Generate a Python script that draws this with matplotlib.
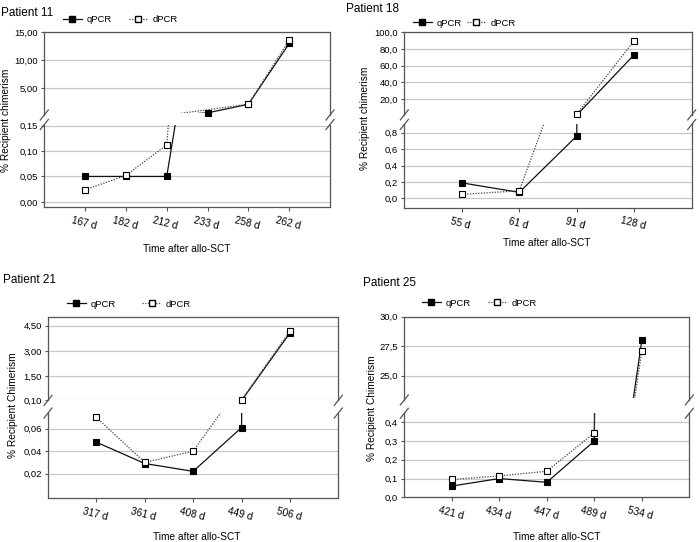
import numpy as np
import matplotlib
matplotlib.use('Agg')
import matplotlib.pyplot as plt
from matplotlib.lines import Line2D
from matplotlib.patches import Rectangle

plt.rcParams['font.family'] = ['Liberation Sans', 'DejaVu Sans']

W, H = 700, 542
nan = np.nan

# Patient 11
days_11 = ['167 d', '182 d', '212 d', '233 d', '258 d', '262 d']
qpcr_11 = [0.05, 0.05, 0.05, 0.54, 2.07, 13.0]
dpcr_11 = [0.024, 0.052, 0.112, nan, 2.1, 13.6]
up_ticks_11 = [5, 10, 15]
up_labels_11 = ['5,00', '10,00', '15,00']
lo_ticks_11 = [0, 0.05, 0.10, 0.15]
lo_labels_11 = ['0,00', '0,05', '0,10', '0,15']

# Patient 18
days_18 = ['55 d', '61 d', '91 d', '128 d']
qpcr_18 = [0.19, 0.074, 0.76, 73.2]
dpcr_18 = [0.05, 0.093, 2.0, 89.9]
up_ticks_18 = [20, 40, 60, 80, 100]
up_labels_18 = ['20,0', '40,0', '60,0', '80,0', '100,0']
lo_ticks_18 = [0, 0.2, 0.4, 0.6, 0.8]
lo_labels_18 = ['0,0', '0,2', '0,4', '0,6', '0,8']

# Patient 21
days_21 = ['317 d', '361 d', '408 d', '449 d', '506 d']
qpcr_21 = [0.048, 0.029, 0.022, 0.061, 4.08]
dpcr_21 = [0.070, 0.030, 0.040, 0.10, 4.18]
up_ticks_21 = [0.10, 1.50, 3.00, 4.50]
up_labels_21 = ['0,10', '1,50', '3,00', '4,50']
lo_ticks_21 = [0.02, 0.04, 0.06]
lo_labels_21 = ['0,02', '0,04', '0,06']

# Patient 25
days_25 = ['421 d', '434 d', '447 d', '489 d', '534 d']
qpcr_25 = [0.06, 0.10, 0.08, 0.30, 28.0]
dpcr_25 = [0.095, 0.114, 0.139, 0.344, 27.1]
up_ticks_25 = [25, 27.5, 30]
up_labels_25 = ['25,0', '27,5', '30,0']
lo_ticks_25 = [0, 0.1, 0.2, 0.3, 0.4]
lo_labels_25 = ['0,0', '0,1', '0,2', '0,3', '0,4']

SPINE = '#555555'
GRID = '#c8c8c8'

fig = plt.figure(figsize=(7, 5.42), dpi=100)


def box(x0, x1, y0, y1):
    # pixel box (origin top-left) -> figure fraction
    return [x0 / W, 1 - y1 / H, (x1 - x0) / W, (y1 - y0) / H]


def slash(x, y):
    fig.add_artist(Line2D([(x - 4) / W, (x + 4) / W], [1 - (y + 5) / H, 1 - (y - 5) / H],
                          transform=fig.transFigure, color=SPINE, lw=0.9))


def draw_series(ax, vals, lim, style, inset=0.0):
    v = np.array(vals, dtype=float)
    x = np.arange(len(v))
    m = ~np.isnan(v)
    line, = ax.plot(x[m], v[m], ls=style['ls'], color=style['color'], lw=0.9, zorder=style['z'])
    if inset:
        # hide the part of the line that runs along the break edge
        clip = Rectangle((0, inset), 1, 1 - inset, transform=ax.transAxes,
                         facecolor='none', edgecolor='none')
        line.set_clip_path(clip)
    inside = m & (v >= lim[0]) & (v <= lim[1])
    ax.plot(x[inside], v[inside], ls='none', marker='s', ms=4.2, mfc=style['mfc'],
            mec='black', mew=0.8, zorder=style['z'] + 0.5, clip_on=False)


Q = dict(ls='-', color='#111111', mfc='black', z=3)
D = dict(ls=(0, (1, 1.2)), color='#444444', mfc='white', z=4)


def panel(days, q, d, xr, up_y, lo_y, up_lim, lo_lim, up_t, up_l, lo_t, lo_l,
          title, title_xy, ylab, ylab_xy, xlab_xy, leg_xy, colsp):
    n = len(days)
    ax_u = fig.add_axes(box(xr[0], xr[1], up_y[0], up_y[1]))
    ax_l = fig.add_axes(box(xr[0], xr[1], lo_y[0], lo_y[1]))
    up_inset = 1.8 / (up_y[1] - up_y[0])
    for ax, lim, t, l, ins in [(ax_u, up_lim, up_t, up_l, up_inset),
                               (ax_l, lo_lim, lo_t, lo_l, 0.0)]:
        ax.set_xlim(-1, n)
        ax.set_ylim(*lim)
        ax.set_yticks(t)
        ax.set_yticklabels(l, fontsize=6.8)
        ax.grid(axis='y', color=GRID, lw=0.9)
        ax.set_axisbelow(True)
        ax.tick_params(axis='y', length=2.5, width=0.8, color=SPINE, pad=2)
        for s in ax.spines.values():
            s.set_color(SPINE)
            s.set_linewidth(0.9)
        draw_series(ax, q, lim, Q, ins)
        draw_series(ax, d, lim, D, ins)
    ax_u.spines['bottom'].set_visible(False)
    ax_u.set_xticks([])
    ax_l.spines['top'].set_visible(False)
    ax_l.set_xticks(range(n))
    ax_l.set_xticklabels(days, fontsize=7.3, rotation=-14, rotation_mode='anchor',
                         ha='center', va='top')
    ax_l.tick_params(axis='x', length=3, width=0.8, color=SPINE, pad=5)

    for x in xr:
        slash(x, up_y[1])
        slash(x, lo_y[0])

    fig.text(title_xy[0] / W, 1 - title_xy[1] / H, title, fontsize=8.5, ha='left', va='center')
    fig.text(ylab_xy[0] / W, 1 - ylab_xy[1] / H, ylab, fontsize=7.3, rotation=90,
             ha='center', va='center')
    fig.text(xlab_xy[0] / W, 1 - xlab_xy[1] / H, 'Time after allo-SCT', fontsize=7.3,
             ha='center', va='center')

    handles = [Line2D([], [], ls=Q['ls'], color=Q['color'], lw=0.9, marker='s', ms=4.2,
                      mfc=Q['mfc'], mec='black'),
               Line2D([], [], ls=D['ls'], color=D['color'], lw=0.9, marker='s', ms=4.2,
                      mfc=D['mfc'], mec='black')]
    ax_u.legend(handles, ['qPCR', 'dPCR'], loc='center left',
                bbox_to_anchor=(leg_xy[0] / W, 1 - leg_xy[1] / H),
                bbox_transform=fig.transFigure, ncol=2, frameon=False, fontsize=6.8,
                handlelength=2.0, handletextpad=0.5, columnspacing=colsp,
                borderpad=0, borderaxespad=0)


panel(days_11, qpcr_11, dpcr_11, (44.3, 330), (32.3, 115), (124.5, 207),
      (0.152, 15), (-0.01, 0.152), up_ticks_11, up_labels_11, lo_ticks_11, lo_labels_11,
      'Patient 11', (1, 13), '% Recipient chimerism', (6, 120), (186.7, 249), (63, 20), 1.8)

panel(days_18, qpcr_18, dpcr_18, (404.3, 691.7), (32.3, 114.9), (124.5, 207.5),
      (1.0, 100), (-0.11, 0.9), up_ticks_18, up_labels_18, lo_ticks_18, lo_labels_18,
      'Patient 18', (346, 9), '% Recipient chimerism', (365, 118), (546.7, 243.3), (413, 23), 0.5)

panel(days_21, qpcr_21, dpcr_21, (48, 338.3), (316.7, 400.4), (413, 498.3),
      (0.074, 5.04), (-0.002, 0.074), up_ticks_21, up_labels_21, lo_ticks_21, lo_labels_21,
      'Patient 21', (3, 280), '% Recipient Chimerism', (13, 405.5), (196.7, 536.7), (67, 304.3), 2.8)

panel(days_25, qpcr_25, dpcr_25, (404.3, 689.3), (316.7, 400), (413.3, 497.3),
      (22.95, 30.0), (0, 0.448), up_ticks_25, up_labels_25, lo_ticks_25, lo_labels_25,
      'Patient 25', (363, 282.7), '% Recipient Chimerism', (372, 408), (556.7, 536.7), (421.7, 303.3), 1.8)

fig.savefig('out.png', dpi=100)
